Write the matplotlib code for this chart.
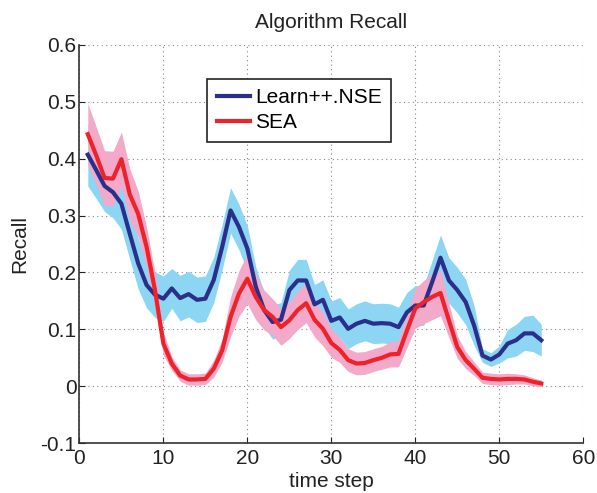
import matplotlib
matplotlib.use("Agg")
import matplotlib.pyplot as plt
import numpy as np

plt.rcParams['font.family'] = ['Liberation Sans', 'DejaVu Sans']

time_steps = list(range(1, 56))

learn_nse_mean = [0.407, 0.380, 0.352, 0.341, 0.321, 0.268, 0.216, 0.178, 0.161, 0.154,
                  0.172, 0.155, 0.162, 0.152, 0.154, 0.187, 0.245, 0.309, 0.280, 0.242,
                  0.175, 0.134, 0.113, 0.117, 0.169, 0.186, 0.186, 0.144, 0.152, 0.115,
                  0.121, 0.101, 0.110, 0.115, 0.110, 0.111, 0.110, 0.104, 0.130, 0.142,
                  0.142, 0.183, 0.226, 0.186, 0.169, 0.148, 0.107, 0.054, 0.047, 0.056,
                  0.075, 0.081, 0.093, 0.093, 0.081]
learn_nse_err = [0.055, 0.050, 0.045, 0.045, 0.045, 0.045, 0.045, 0.040, 0.040, 0.040,
                 0.035, 0.040, 0.040, 0.040, 0.040, 0.040, 0.040, 0.040, 0.040, 0.040,
                 0.035, 0.030, 0.030, 0.030, 0.035, 0.037, 0.037, 0.035, 0.035, 0.035,
                 0.035, 0.035, 0.035, 0.035, 0.035, 0.035, 0.035, 0.035, 0.035, 0.035,
                 0.035, 0.038, 0.040, 0.040, 0.040, 0.040, 0.035, 0.012, 0.012, 0.015,
                 0.025, 0.028, 0.030, 0.032, 0.028]

sea_mean = [0.443, 0.406, 0.366, 0.365, 0.399, 0.337, 0.303, 0.245, 0.169, 0.075,
            0.040, 0.019, 0.012, 0.012, 0.013, 0.031, 0.063, 0.122, 0.163, 0.189,
            0.157, 0.134, 0.122, 0.104, 0.116, 0.134, 0.146, 0.117, 0.101, 0.076,
            0.064, 0.046, 0.040, 0.041, 0.046, 0.050, 0.056, 0.057, 0.098, 0.137,
            0.148, 0.157, 0.164, 0.116, 0.069, 0.046, 0.031, 0.015, 0.013, 0.012,
            0.013, 0.013, 0.012, 0.008, 0.005]
sea_err = [0.054, 0.050, 0.048, 0.048, 0.048, 0.045, 0.040, 0.035, 0.030, 0.020,
           0.012, 0.010, 0.010, 0.010, 0.010, 0.015, 0.020, 0.035, 0.040, 0.044,
           0.040, 0.035, 0.032, 0.032, 0.032, 0.034, 0.034, 0.030, 0.030, 0.025,
           0.022, 0.020, 0.020, 0.020, 0.020, 0.020, 0.022, 0.023, 0.030, 0.035,
           0.038, 0.040, 0.040, 0.030, 0.020, 0.015, 0.012, 0.010, 0.010, 0.010,
           0.010, 0.009, 0.008, 0.007, 0.006]

x_ticks = [0, 10, 20, 30, 40, 50, 60]
y_ticks = [-0.1, 0, 0.1, 0.2, 0.3, 0.4, 0.5, 0.6]
y_ticklabels = ['-0.1', '0', '0.1', '0.2', '0.3', '0.4', '0.5', '0.6']

blue_line = '#2b2f8c'
red_line = '#ee2229'
blue_fill = '#8cd6f4'
pink_fill = '#f3a9c9'

fig = plt.figure(figsize=(5.97, 4.93), dpi=100)
ax = fig.add_axes([0.133, 0.101, 0.844, 0.808])

t = np.array(time_steps)
bm = np.array(learn_nse_mean); be = np.array(learn_nse_err)
sm = np.array(sea_mean); se = np.array(sea_err)

ax.fill_between(t, bm - be, bm + be, color=blue_fill, linewidth=0, zorder=2)
ax.fill_between(t, sm - se, sm + se, color=pink_fill, linewidth=0, zorder=3)
ax.plot(t, bm, color=blue_line, linewidth=3, label='Learn++.NSE', zorder=4)
ax.plot(t, sm, color=red_line, linewidth=3, label='SEA', zorder=5)

ax.set_xlim(0, 60)
ax.set_ylim(-0.1, 0.6)
ax.set_xticks(x_ticks)
ax.set_yticks(y_ticks)
ax.set_yticklabels(y_ticklabels)
ax.tick_params(direction='in', length=4, width=0.8, labelsize=15, colors='#222222')
ax.tick_params(axis='x', pad=4)
ax.tick_params(axis='y', pad=2)
ax.grid(True, linestyle=(0, (1, 3)), color='#888888', linewidth=0.8)
ax.set_axisbelow(True)
for s in ['top', 'right']:
    ax.spines[s].set_visible(False)
for s in ['left', 'bottom']:
    ax.spines[s].set_color('#333333')
    ax.spines[s].set_linewidth(1.2)

ax.set_title('Algorithm Recall', fontsize=15, color='#222222', pad=12)
ax.set_xlabel('time step', fontsize=15, color='#222222', labelpad=3)
ax.set_ylabel('Recall', fontsize=15, color='#222222', labelpad=8)

leg = ax.legend(loc='upper left', bbox_to_anchor=(0.254, 0.915), fontsize=15,
                frameon=True, fancybox=False, edgecolor='#222222', framealpha=1,
                handlelength=1.6, handletextpad=0.25, borderpad=0.45, labelspacing=0.3,
                borderaxespad=0)
leg.get_frame().set_linewidth(1.2)

fig.savefig('out.png', dpi=100)
